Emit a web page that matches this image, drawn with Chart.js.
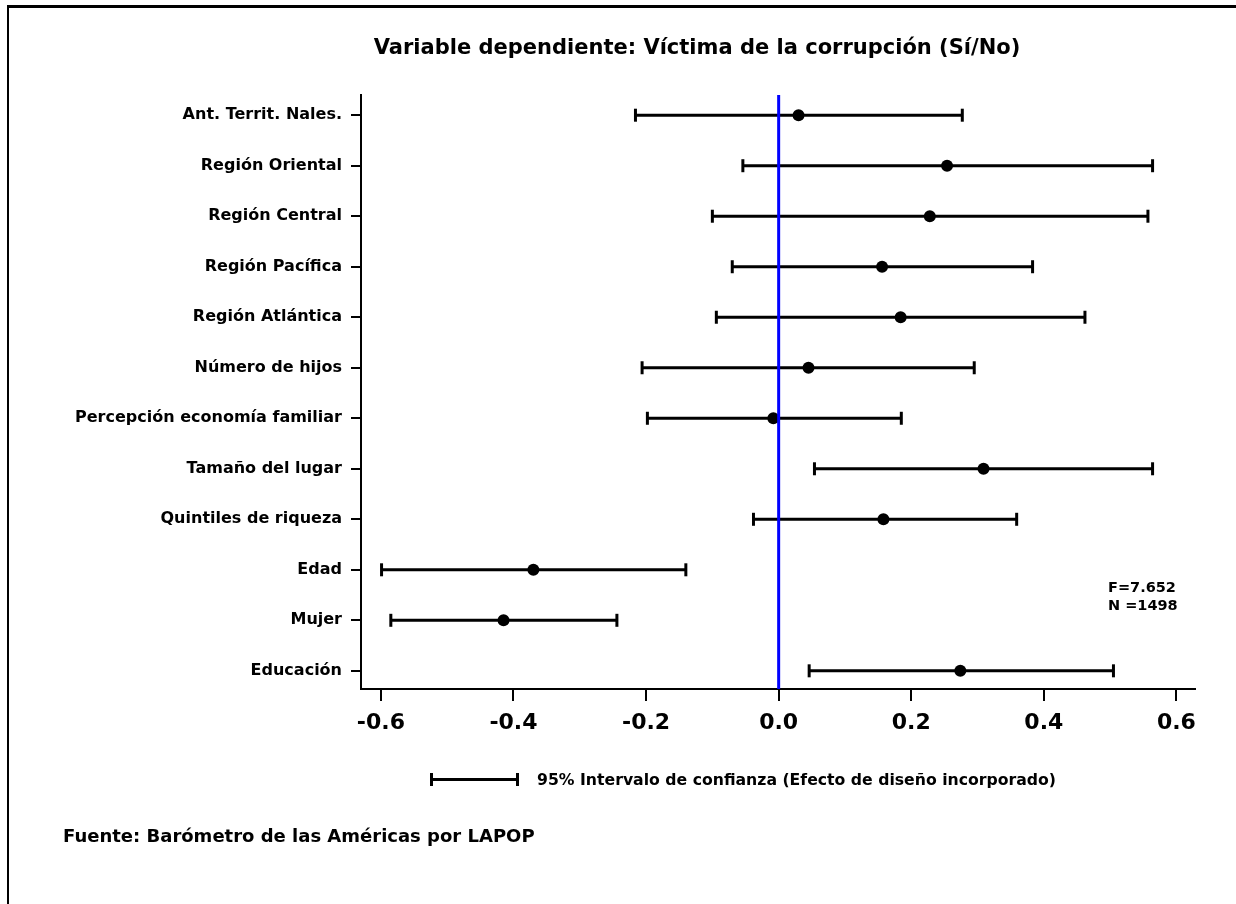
<!DOCTYPE html>
<html>
<head>
<meta charset="utf-8">
<script src="https://cdn.jsdelivr.net/npm/chart.js@4.4.1/dist/chart.umd.min.js"></script>
<style>
  body { margin: 0; background: #fff; }
  #wrap { position: relative; width: 1236px; height: 904px; overflow: hidden; font-family: "DejaVu Sans", sans-serif; font-weight: bold; color: #000; }
  #frame { position: absolute; left: 7px; top: 5px; width: 1240px; height: 910px; border-left: 2px solid #000; border-top: 3px solid #000; }
  .txt { position: absolute; white-space: nowrap; line-height: 1; }
  #title { left: 697px; top: 37px; font-size: 21px; transform: translateX(-50%); }
  #stats { left: 1108px; top: 578px; font-size: 14.5px; line-height: 18px; }
  #legtxt { left: 537px; top: 772px; font-size: 15.7px; }
  #source { left: 63px; top: 827px; font-size: 18px; }
  #legbar { position: absolute; left: 430px; top: 778px; width: 89px; height: 3px; background: #000; }
  #legbar::before, #legbar::after { content: ""; position: absolute; top: -5px; width: 3px; height: 13px; background: #000; }
  #legbar::before { left: 0; }
  #legbar::after { right: 0; }
</style>
</head>
<body>
<div id="wrap">
  <canvas id="coefChart" width="1236" height="904"></canvas>
  <div id="frame"></div>
  <div class="txt" id="title">Variable dependiente: Víctima de la corrupción (Sí/No)</div>
  <div class="txt" id="stats">F=7.652<br>N =1498</div>
  <div id="legbar"></div>
  <div class="txt" id="legtxt">95% Intervalo de confianza (Efecto de diseño incorporado)</div>
  <div class="txt" id="source">Fuente: Barómetro de las Américas por LAPOP</div>
</div>
<script>
// coefficient plot - dependent variable: corruption victim (yes/no)
const labels = ['Ant. Territ. Nales.', 'Región Oriental', 'Región Central', 'Región Pacífica',
    'Región Atlántica', 'Número de hijos', 'Percepción economía familiar', 'Tamaño del lugar',
    'Quintiles de riqueza', 'Edad', 'Mujer', 'Educación'];
const coef = [0.030, 0.254, 0.228, 0.156, 0.184, 0.045, -0.008, 0.309, 0.158, -0.370, -0.415, 0.274];
const lower = [-0.216, -0.054, -0.100, -0.070, -0.094, -0.206, -0.198, 0.054, -0.038, -0.599, -0.585, 0.046];
const upper = [0.277, 0.564, 0.557, 0.383, 0.462, 0.295, 0.185, 0.564, 0.359, -0.140, -0.244, 0.505];
const xTicks = [-0.6, -0.4, -0.2, 0.0, 0.2, 0.4, 0.6];

const yMin = -0.4, yMax = 11.36;

// whiskers: one segment per row, broken with NaN gaps
const whiskers = [];
labels.forEach(function (lab, i) {
    whiskers.push({ x: lower[i], y: i }, { x: upper[i], y: i }, { x: NaN, y: i });
});

new Chart(document.getElementById('coefChart').getContext('2d'), {
    type: 'scatter',
    data: {
        datasets: [
            {
                // zero reference line
                data: [{ x: 0, y: yMin }, { x: 0, y: yMax }],
                showLine: true,
                borderColor: '#0000ff',
                borderWidth: 3,
                pointRadius: 0,
                order: 0
            },
            {
                data: coef.map(function (v, i) { return { x: v, y: i }; }),
                pointRadius: 6,
                pointBackgroundColor: '#000',
                pointBorderWidth: 0,
                order: 1
            },
            {
                data: whiskers,
                showLine: true,
                spanGaps: false,
                borderColor: '#000',
                borderWidth: 3,
                pointStyle: 'line',
                pointRotation: 90,
                pointRadius: 6.5,
                pointBorderColor: '#000',
                pointBorderWidth: 3,
                order: 2
            }
        ]
    },
    options: {
        responsive: false,
        animation: false,
        events: [],
        layout: { padding: { top: 95, right: 41, left: 0, bottom: 0 } },
        plugins: {
            legend: { display: false },
            tooltip: { enabled: false }
        },
        scales: {
            x: {
                type: 'linear',
                min: -0.63,
                max: 0.628,
                afterBuildTicks: function (scale) {
                    scale.ticks = xTicks.map(function (v) { return { value: v }; });
                },
                afterFit: function (scale) { scale.height = 215; },
                grid: { drawOnChartArea: false, tickLength: 12, color: '#000', lineWidth: 2 },
                border: { color: '#000', width: 2 },
                ticks: {
                    padding: 9,
                    color: '#000',
                    font: { family: 'DejaVu Sans', weight: 'bold', size: 22 },
                    callback: function (v) { return v.toFixed(1); }
                }
            },
            y: {
                type: 'linear',
                reverse: true,
                min: yMin,
                max: yMax,
                afterBuildTicks: function (scale) {
                    scale.ticks = labels.map(function (l, i) { return { value: i }; });
                },
                afterFit: function (scale) { scale.width = 361; },
                grid: { drawOnChartArea: false, tickLength: 10, color: '#000', lineWidth: 2 },
                border: { color: '#000', width: 2 },
                ticks: {
                    padding: 9,
                    color: '#000',
                    font: { family: 'DejaVu Sans', weight: 'bold', size: 16 },
                    callback: function (v) { return labels[v]; }
                }
            }
        }
    }
});
</script>
</body>
</html>
